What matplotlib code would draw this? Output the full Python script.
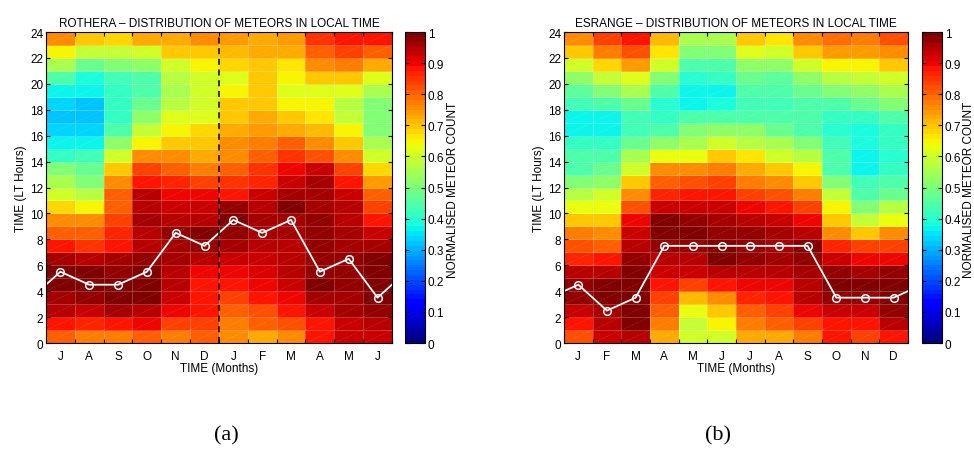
import matplotlib
matplotlib.use("Agg")
import matplotlib.pyplot as plt
import numpy as np
from matplotlib.collections import LineCollection

plt.rcParams['font.family'] = ['Liberation Sans', 'DejaVu Sans']

# Rothera: rows are LT hours 0..23, columns Jul..Jun
months_a = ['J', 'A', 'S', 'O', 'N', 'D', 'J', 'F', 'M', 'A', 'M', 'J']
rothera = [
    [0.80, 0.77, 0.77, 0.81, 0.78, 0.80, 0.76, 0.72, 0.76, 0.88, 0.93, 0.93],  # 0
    [0.88, 0.87, 0.88, 0.90, 0.84, 0.84, 0.77, 0.81, 0.82, 0.89, 0.93, 0.95],
    [0.94, 0.93, 0.96, 0.95, 0.90, 0.88, 0.80, 0.82, 0.88, 0.93, 0.96, 0.97],
    [0.96, 0.97, 0.99, 0.99, 0.93, 0.88, 0.84, 0.88, 0.90, 0.96, 0.96, 0.99],
    [0.99, 0.99, 1.00, 1.00, 0.95, 0.88, 0.88, 0.90, 0.93, 1.00, 0.97, 0.99],
    [1.00, 1.00, 0.98, 1.00, 0.95, 0.90, 0.90, 0.91, 0.94, 0.98, 0.98, 1.00],  # 5
    [0.96, 0.94, 0.96, 0.98, 0.96, 0.94, 0.93, 0.93, 0.95, 0.97, 0.97, 0.99],
    [0.88, 0.85, 0.88, 0.95, 0.96, 0.98, 0.96, 0.95, 0.95, 0.97, 0.96, 0.96],
    [0.80, 0.80, 0.87, 0.94, 0.97, 0.99, 0.97, 0.96, 0.96, 0.97, 0.96, 0.93],
    [0.75, 0.75, 0.83, 0.96, 0.95, 0.94, 0.99, 0.96, 0.96, 0.97, 0.95, 0.88],
    [0.68, 0.65, 0.80, 0.95, 0.93, 0.93, 0.98, 0.94, 0.99, 0.96, 0.94, 0.84],  # 10
    [0.60, 0.57, 0.80, 0.94, 0.90, 0.90, 0.88, 0.93, 0.96, 0.96, 0.93, 0.80],
    [0.55, 0.50, 0.76, 0.88, 0.87, 0.83, 0.85, 0.87, 0.93, 0.96, 0.88, 0.74],
    [0.50, 0.47, 0.70, 0.83, 0.80, 0.77, 0.80, 0.85, 0.90, 0.93, 0.83, 0.68],
    [0.42, 0.43, 0.60, 0.76, 0.76, 0.73, 0.76, 0.80, 0.85, 0.82, 0.75, 0.60],
    [0.36, 0.36, 0.52, 0.65, 0.70, 0.69, 0.76, 0.77, 0.80, 0.76, 0.70, 0.55],  # 15
    [0.33, 0.33, 0.45, 0.58, 0.65, 0.68, 0.73, 0.74, 0.72, 0.71, 0.65, 0.50],
    [0.32, 0.32, 0.42, 0.52, 0.62, 0.62, 0.70, 0.73, 0.69, 0.67, 0.58, 0.50],
    [0.33, 0.32, 0.42, 0.48, 0.57, 0.60, 0.69, 0.69, 0.65, 0.65, 0.57, 0.50],
    [0.36, 0.36, 0.42, 0.44, 0.56, 0.60, 0.65, 0.69, 0.62, 0.62, 0.61, 0.55],
    [0.44, 0.38, 0.43, 0.45, 0.57, 0.60, 0.62, 0.69, 0.65, 0.70, 0.70, 0.62],  # 20
    [0.55, 0.47, 0.50, 0.52, 0.60, 0.65, 0.68, 0.70, 0.67, 0.76, 0.77, 0.72],
    [0.65, 0.58, 0.58, 0.60, 0.69, 0.70, 0.71, 0.72, 0.72, 0.81, 0.84, 0.80],
    [0.75, 0.70, 0.68, 0.72, 0.72, 0.76, 0.74, 0.72, 0.74, 0.85, 0.88, 0.88],
]
peak_a = [5.5, 4.5, 4.5, 5.5, 8.5, 7.5, 9.5, 8.5, 9.5, 5.5, 6.5, 3.5]

# Esrange: columns Jan..Dec
months_b = ['J', 'F', 'M', 'A', 'M', 'J', 'J', 'A', 'S', 'O', 'N', 'D']
esrange = [
    [0.82, 0.93, 0.95, 0.72, 0.60, 0.60, 0.72, 0.72, 0.77, 0.88, 0.84, 0.88],  # 0
    [0.88, 0.94, 0.99, 0.77, 0.58, 0.65, 0.77, 0.80, 0.84, 0.88, 0.89, 0.94],
    [0.93, 0.96, 1.00, 0.80, 0.64, 0.69, 0.80, 0.83, 0.90, 0.93, 0.93, 0.97],
    [0.98, 1.00, 1.00, 0.84, 0.71, 0.76, 0.86, 0.88, 0.94, 0.97, 0.98, 1.00],
    [0.97, 0.99, 1.00, 0.88, 0.83, 0.88, 0.90, 0.90, 0.94, 0.99, 1.00, 0.99],
    [0.95, 0.94, 1.00, 0.93, 0.93, 0.94, 0.95, 0.94, 0.96, 0.97, 0.96, 0.97],  # 5
    [0.87, 0.88, 0.98, 0.94, 0.95, 0.99, 0.97, 0.96, 0.98, 0.93, 0.90, 0.90],
    [0.82, 0.81, 0.95, 0.97, 0.97, 0.99, 0.97, 0.96, 0.99, 0.87, 0.83, 0.84],
    [0.77, 0.75, 0.93, 1.00, 0.99, 0.98, 0.97, 0.96, 0.94, 0.76, 0.69, 0.75],
    [0.70, 0.69, 0.90, 0.99, 0.98, 0.96, 0.94, 0.93, 0.90, 0.70, 0.58, 0.64],
    [0.64, 0.64, 0.82, 0.93, 0.93, 0.93, 0.90, 0.89, 0.84, 0.65, 0.50, 0.57],  # 10
    [0.57, 0.60, 0.76, 0.87, 0.88, 0.88, 0.84, 0.82, 0.77, 0.58, 0.45, 0.47],
    [0.50, 0.53, 0.70, 0.81, 0.82, 0.84, 0.77, 0.75, 0.70, 0.50, 0.43, 0.45],
    [0.45, 0.47, 0.60, 0.75, 0.75, 0.77, 0.72, 0.70, 0.65, 0.44, 0.36, 0.42],
    [0.44, 0.44, 0.56, 0.64, 0.64, 0.69, 0.66, 0.60, 0.57, 0.44, 0.36, 0.40],
    [0.42, 0.42, 0.48, 0.53, 0.55, 0.60, 0.57, 0.56, 0.50, 0.43, 0.38, 0.42],  # 15
    [0.37, 0.36, 0.43, 0.44, 0.50, 0.52, 0.52, 0.47, 0.44, 0.40, 0.39, 0.42],
    [0.37, 0.37, 0.43, 0.42, 0.44, 0.44, 0.45, 0.45, 0.44, 0.42, 0.42, 0.44],
    [0.43, 0.44, 0.48, 0.40, 0.37, 0.38, 0.43, 0.43, 0.44, 0.45, 0.48, 0.50],
    [0.46, 0.50, 0.55, 0.44, 0.36, 0.37, 0.44, 0.44, 0.48, 0.50, 0.53, 0.56],
    [0.53, 0.58, 0.61, 0.50, 0.40, 0.42, 0.48, 0.46, 0.52, 0.57, 0.58, 0.60],  # 20
    [0.60, 0.68, 0.74, 0.60, 0.45, 0.44, 0.53, 0.53, 0.60, 0.65, 0.65, 0.69],
    [0.70, 0.77, 0.82, 0.66, 0.50, 0.50, 0.61, 0.60, 0.70, 0.74, 0.74, 0.76],
    [0.76, 0.83, 0.88, 0.71, 0.55, 0.55, 0.69, 0.67, 0.76, 0.79, 0.77, 0.82],
]
peak_b = [4.5, 2.5, 3.5, 7.5, 7.5, 7.5, 7.5, 7.5, 7.5, 3.5, 3.5, 3.5]

cmap = plt.get_cmap('jet', 64)
fs = 8.5

fig = plt.figure(figsize=(9.74, 4.56), dpi=100)


def panel(ax_rect, cb_rect, label_x, data, peaks, months, title, split=False):
    ax = fig.add_axes(ax_rect)
    data = np.array(data)
    ny, nx = data.shape
    mesh = ax.pcolormesh(np.arange(nx + 1), np.arange(ny + 1), data, cmap=cmap,
                         vmin=0, vmax=1, edgecolors=(1, 1, 1, 0.22), linewidth=0.4,
                         linestyle='--')
    # faint diagonal artefacts across the cells
    segs = [[(j, i), (j + 1, i + 1)] for i in range(ny) for j in range(nx)]
    ax.add_collection(LineCollection(segs, colors=[(1, 1, 1, 0.18)], linewidths=0.4,
                                     linestyles='--'))
    # peak hour line, wrapped around the year at both ends
    xs = np.arange(-1, nx + 1) + 0.5
    ys = [peaks[-1]] + list(peaks) + [peaks[0]]
    ax.plot(xs, ys, '-', color='white', lw=1.3, clip_on=True)
    ax.plot(np.arange(nx) + 0.5, peaks, 'o', mfc='none', mec='white', mew=1.1, ms=5.5)
    if split:
        ax.axvline(6, color='black', ls='--', lw=1.1, dashes=(4, 3))
    ax.set_xlim(0, nx)
    ax.set_ylim(0, 24)
    ax.set_xticks(np.arange(nx + 1))
    ax.set_xticklabels([])
    ax.set_xticks(np.arange(nx) + 0.5, minor=True)
    ax.set_xticklabels(months, minor=True, fontsize=fs)
    ax.tick_params(axis='x', which='minor', length=0, pad=5)
    ax.set_yticks(np.arange(0, 25, 2))
    ax.tick_params(which='major', direction='in', length=3, width=0.8, labelsize=fs,
                   top=True, right=True, pad=2)
    ax.set_xlabel('TIME (Months)', fontsize=fs, labelpad=0)
    ax.set_ylabel('TIME (LT Hours)', fontsize=fs, labelpad=2)
    ax.set_title(title, fontsize=fs, pad=4)
    for s in ax.spines.values():
        s.set_linewidth(0.8)

    cax = fig.add_axes(cb_rect)
    cb = fig.colorbar(mesh, cax=cax, ticks=np.arange(0, 1.01, 0.1))
    cb.ax.set_yticklabels(['0', '0.1', '0.2', '0.3', '0.4', '0.5', '0.6', '0.7',
                           '0.8', '0.9', '1'])
    cb.ax.tick_params(direction='in', length=3, width=0.8, labelsize=fs, left=True, pad=2)
    cb.outline.set_linewidth(0.8)
    fig.text(label_x, 0.583, 'NORMALISED METEOR COUNT', rotation=90, fontsize=fs,
             ha='center', va='center')
    return ax


panel([0.0472, 0.2456, 0.3552, 0.682], [0.4158, 0.2456, 0.0205, 0.682], 0.4646,
      rothera, peak_a, months_a,
      'ROTHERA \u2013 DISTRIBUTION OF METEORS IN LOCAL TIME', split=True)
panel([0.579, 0.2456, 0.3532, 0.682], [0.9466, 0.2456, 0.0205, 0.682], 0.9945,
      esrange, peak_b, months_b,
      'ESRANGE \u2013 DISTRIBUTION OF METEORS IN LOCAL TIME')

fig.text(0.232, 0.035, '(a)', fontsize=16, family='Liberation Serif', ha='center')
fig.text(0.737, 0.035, '(b)', fontsize=16, family='Liberation Serif', ha='center')

fig.savefig('out.png', dpi=100)
